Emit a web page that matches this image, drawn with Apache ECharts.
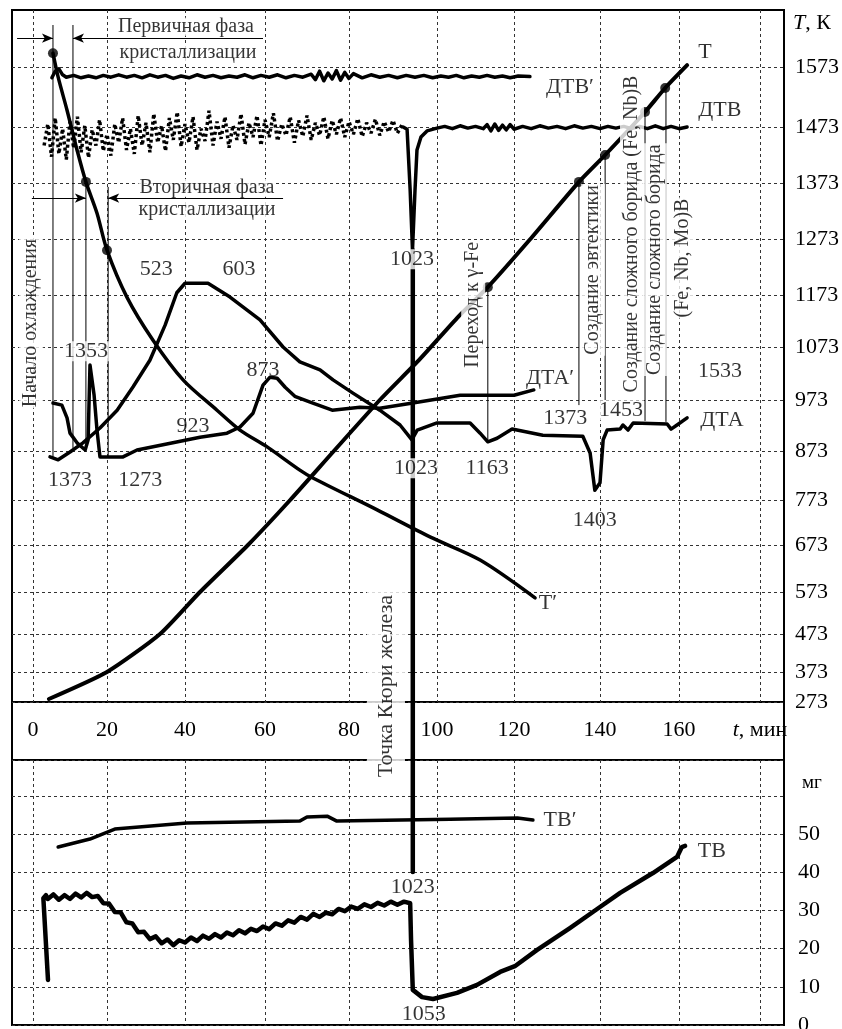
<!DOCTYPE html>
<html><head><meta charset="utf-8">
<script src="https://cdn.jsdelivr.net/npm/echarts@6/dist/echarts.min.js"></script>
<style>html,body{margin:0;padding:0;background:#fff}#c{width:842px;height:1029px}</style>
</head><body><div id="c"></div><script>
// ---------------- DATA ----------------
// time axis, minutes
const TIME_TICKS = [0,20,40,60,80,100,120,140,160,180];
const TIME_TICK_LABELS = ['0','20','40','60','80','100','120','140','160','{i|t}, мин'];
// temperature axis, K
const TEMP_TICKS = [273,373,473,573,673,773,873,973,1073,1173,1273,1373,1473,1573];
const TEMP_TICK_LABELS = TEMP_TICKS.map(String);
// mass axis, mg
const MASS_TICKS = [0,10,20,30,40,50,60];
const MASS_TICK_LABELS = ['0','10','20','30','40','50',''];

// curves in the upper panel: [t (min), K]
const T_CURVE = [[4.3,283],[20,373],[33.6,473],[43.75,573],[55.75,673],[66,773],[76.4,873],[87,973],[96.1,1050],[105.5,1131],[113.2,1187],[123.7,1272],[135.1,1375],[141.3,1423],[151.4,1498],[156.5,1538],[162,1576]];
const T_PRIME = [[5.4,1596],[6.8,1556],[9.2,1501],[11.9,1432],[14.3,1375],[17.3,1319],[20,1253],[25.1,1169],[31.8,1086],[39.5,1011],[48,953],[53.75,914],[60.5,881],[68.3,834],[71.4,818],[86.4,751],[98.4,691],[111.2,641],[124.9,559]];
const DTA = [[4.6,861],[6.8,855],[10,871],[13.5,889],[18.1,918],[22.6,953],[26.7,998],[31,1048],[34.9,1115],[37.9,1177],[40,1194],[45.75,1194],[51.25,1169],[58.75,1125],[64.3,1073],[68.3,1045],[73.1,1030],[76.2,1011],[80.9,986],[87,953],[91.6,924],[94.3,895],[95.5,914],[100,928],[108.6,928],[111.2,908],[113.2,891],[115.6,898],[119.5,916],[126.7,904],[136,902],[137.7,869],[138.8,793],[140,808],[140.8,895],[141.8,914],[145.1,916],[145.8,924],[147.1,914],[148.4,928],[157,926],[158,916],[159.5,924],[162,938]];
const DTA_PRIME = [[5.4,967],[7.8,963],[9.2,938],[10,908],[11.9,889],[14.1,875],[14.9,895],[15.4,1039],[16.5,983],[17.3,914],[18.1,861],[24.1,861],[27.7,875],[36.9,889],[43.75,900],[50.5,908],[53.75,920],[57,947],[59.5,1001],[61.2,1016],[62.9,1014],[64.8,997],[67.1,980],[71.4,967],[76,953],[82.5,959],[87,957],[94.5,967],[106,982],[120,982],[124.6,992]];
const DTV_PRIME = [[5.1,1555],[6,1566],[7,1570],[8,1560],[9,1556],[11,1559],[13,1555],[15,1558],[17,1555],[19,1559],[21,1556],[23,1560],[25,1556],[27,1559],[29,1555],[31,1560],[33,1556],[35,1559],[37,1554],[39,1558],[41,1555],[43,1560],[45,1556],[47,1559],[49,1555],[51,1558],[53,1556],[55,1560],[57,1555],[59,1559],[61,1556],[63,1560],[65,1555],[67,1559],[69,1556],[71,1561],[72,1552],[73,1566],[74,1550],[75,1563],[76,1553],[77,1567],[78,1551],[79,1564],[80,1554],[81,1562],[83,1555],[85,1560],[87,1556],[89,1559],[91,1555],[93,1559],[95,1556],[97,1559],[99,1555],[101,1558],[103,1556],[105,1559],[107,1555],[109,1558],[111,1556],[113,1559],[115,1556],[117,1558],[119,1555],[121,1558],[123.7,1557]];
const DTV_DOTS = [[3,1440],[4,1478],[5,1420],[6,1488],[7,1425],[8,1470],[9,1415],[10,1482],[11,1435],[12,1490],[13,1428],[14,1475],[15,1418],[16,1468],[17,1440],[18,1485],[19,1430],[20,1460],[21,1422],[22,1478],[23,1445],[24,1488],[25,1432],[26,1470],[27,1425],[28,1492],[29,1440],[30,1480],[31,1428],[32,1495],[33,1445],[34,1475],[35,1430],[36,1488],[37,1450],[38,1498],[39,1438],[40,1478],[41,1445],[42,1490],[43,1432],[44,1470],[45,1448],[46,1500],[47,1440],[48,1482],[49,1452],[50,1490],[51,1436],[52,1476],[53,1450],[54,1495],[55,1442],[56,1480],[57,1455],[58,1492],[59,1440],[60,1485],[61,1455],[62,1496],[63,1448],[64,1478],[65,1458],[66,1490],[67,1445],[68,1484],[69,1456],[70,1492],[71,1450],[72,1480],[73,1458],[74,1490],[75,1452],[76,1484],[77,1460],[78,1488],[79,1455],[80,1482],[81,1460],[82,1487],[83,1456],[84,1480],[85,1462],[86,1486],[87,1458],[88,1482],[89,1464],[90,1484],[91,1462],[92,1476]];
const DTV_SOLID = [[92.3,1473],[93.2,1469],[93.9,1360],[94.43,1253],[94.66,1253],[95.0,1360],[95.45,1432],[96.36,1455],[97.73,1466],[100,1471],[102,1474],[104,1470],[106,1475],[108,1471],[110,1474],[112,1470],[113,1477],[114,1466],[115,1478],[116,1467],[117,1476],[118,1468],[119,1477],[120,1469],[122,1474],[124,1470],[126,1475],[128,1471],[130,1474],[132,1470],[134,1475],[136,1471],[138,1474],[140,1470],[142,1474],[144,1471],[146,1474],[148,1470],[150,1474],[152,1470],[154,1475],[156,1470],[158,1474],[160,1470],[162,1473]];
const CURIE_TIME = 94.5;
const CURIE_TOP_K = [1253, 273];
const CURIE_BOTTOM_MG = 40.1;
// transition markers
const T_MARKERS = [[113.2,1187],[135.1,1375],[141.3,1423],[151.4,1498],[156.5,1538]];
const TP_MARKERS = [[5.4,1596],[14.3,1375],[20,1253]];
// thin vertical guide lines: [t, K from, K to]
const GUIDES = [[5.4,1643,861],[10.8,1643,879],[14.3,1375,875],[20.3,1366,861],[113.2,1187,891],[135.1,1375,963],[141.3,1423,973],[151.4,1498,932],[156.7,1538,930]];
// arrows: [t from, K, t to, K]
const ARROWS = [[-4.3,1621,5.4,1621],[59.5,1621,10.8,1621],[-0.3,1346,14.3,1346],[64.3,1346,20.3,1346]];

// lower panel: [t, mg]
const TB_PRIME = [[6.8,46.6],[15.4,48.7],[22,51.3],[40.5,52.9],[68.3,53.4],[70,54.5],[74.8,54.7],[77.1,53.4],[103.4,53.9],[120.8,54.2],[124.4,53.7]];
const TB = [[4.05,11.8],[2.8,33.2],[3.5,34.0],[4,33.0],[5.5,34.2],[7,32.8],[8.5,34.0],[10,33.0],[11.5,34.4],[13,33.4],[14.5,34.6],[16,33.5],[17.5,33.8],[19,31.9],[20.5,31.8],[22,29.6],[23.5,29.5],[25,26.9],[26.5,26.6],[28,24.3],[29.5,24.4],[31,22.5],[32.5,23.2],[34,21.4],[35.5,22.4],[37,20.9],[38.5,22.2],[40,21.6],[41.5,22.9],[43,22.0],[44.5,23.4],[46,22.6],[47.5,23.8],[49,22.9],[50.5,24.2],[52,23.5],[53.5,24.8],[55,24.0],[56.5,25.2],[58,24.6],[59.5,25.8],[61,25.1],[62.5,26.6],[64,26.0],[65.5,27.4],[67,26.8],[68.5,28.3],[70,27.6],[71.5,29.1],[73,28.3],[74.5,29.4],[76,29.0],[77.5,30.4],[79,29.8],[80.5,31.0],[82,30.4],[83.5,31.6],[85,30.9],[86.5,32.0],[88,31.3],[89.5,32.3],[91,31.5],[92.5,32.3],[93.9,31.9],[94.1,22.3],[94.5,9.2],[96.6,7.3],[99.1,6.8],[105.2,8.4],[110.4,10.5],[116.4,13.9],[120.2,15.4],[125.3,19.6],[133,25.4],[140,30.9],[145.1,34.6],[153.4,39.8],[159.5,44.0],[160.7,46.6],[161.5,46.9]];

// annotations: [t, value, text, kind]
const TOP_NOTES = [
  [40.25,1640,'Первичная фаза','word'],
  [40.75,1596,'кристаллизации','word'],
  [45.5,1364,'Вторичная фаза','word'],
  [45.5,1325,'кристаллизации','word'],
  [-0.5,1119,'Начало охлаждения','vword'],
  [14.3,1065,'1353','numbg'],
  [32.6,1219,'523','num'],
  [53.5,1219,'603','num'],
  [59.5,1030,'873','num'],
  [42,922,'923','num'],
  [10,814,'1373','num'],
  [28.5,814,'1273','num'],
  [94.3,1237,'1023','numbg'],
  [95.2,838,'1023','numbg'],
  [113,838,'1163','num'],
  [109.4,1154,'Переход к γ-Fe','vword'],
  [128.4,1015,'ДТА′','num'],
  [131.9,938,'1373','numbg'],
  [145.3,953,'1453','numbg'],
  [138.8,729,'1403','num'],
  [138.4,1218,'Создание эвтектики','vword'],
  [148.1,1282,'Создание сложного борида (Fe, Nb)B','vword'],
  [153.9,1236,'Создание сложного борида','vword'],
  [161,1239,'(Fe, Nb, Mo)B','vword'],
  [170.1,1028,'1533','num'],
  [166.4,1598,'T','num'],
  [133,1540,'ДТВ′','num'],
  [170.1,1501,'ДТВ','num'],
  [170.6,934,'ДТА','num'],
  [127.9,547,'T′','num'],
  [88.4,326,'Точка Кюри железа','vcurie']
];
const BOTTOM_NOTES = [
  [130.7,53.7,'ТВ′','num'],
  [168.1,45.5,'ТВ','num'],
  [94.5,36.1,'1023','numbg'],
  [97,2.9,'1053','num']
];

// ---------------- LAYOUT (hand-drawn, non-uniform scales) ----------------
const TIME_TICK_POS = [0,74,152,232,316,404,481,567,646,727];
const TIME_EXTENT = [-21, 751];
const TEMP_TICK_POS = [0,30,68,110,157,202,251,302,355,407,463,519,575,635];
const TEMP_EXTENT = [0, 692];
const MASS_MAX = 69.4;

const FONT = "'Liberation Serif','DejaVu Serif','Times New Roman',serif";
const GRID_LINE = {color:'#333', width:1, type:[3,3]};

function interp(v, xs, ys) {
  let i = 0;
  if (v >= xs[xs.length-1]) i = xs.length-2;
  else if (v > xs[0]) { while (v > xs[i+1]) i++; }
  return ys[i] + (v - xs[i]) * (ys[i+1] - ys[i]) / (xs[i+1] - xs[i]);
}
const tx = t => interp(t, TIME_TICKS, TIME_TICK_POS);
const ty = k => interp(k, TEMP_TICKS, TEMP_TICK_POS);
const nearest = (arr, v) => arr.reduce((b, a, i) => Math.abs(a - v) < Math.abs(arr[b] - v) ? i : b, 0);
const topPts = d => d.map(([t,k]) => [tx(t), ty(k)]);
const botPts = d => d.map(([t,m]) => [tx(t), m]);

const gridBase = {left:12, width:772, show:true, borderColor:'#000', borderWidth:2, backgroundColor:'transparent', outerBoundsMode:'none', containLabel:false};
function timeAxis(gridIndex, showLabel) {
  return {
    type:'value', gridIndex, min:TIME_EXTENT[0], max:TIME_EXTENT[1],
    axisLine:{show:false, onZero:false}, axisTick:{show:false, customValues:TIME_TICK_POS},
    axisLabel:{show:showLabel, customValues:TIME_TICK_POS, margin:17, color:'#000', fontFamily:FONT, fontSize:22,
      formatter: v => TIME_TICK_LABELS[nearest(TIME_TICK_POS, v)],
      rich:{i:{fontStyle:'italic', fontFamily:FONT, fontSize:22, color:'#000'}}},
    splitLine:{show:gridIndex !== 2, lineStyle:GRID_LINE}
  };
}

const NOTE_STYLE = {
  word:{fontSize:20, lineHeight:18, backgroundColor:'#fff', padding:[0,1]},
  num:{fontSize:22},
  numbg:{fontSize:22, lineHeight:20, backgroundColor:'#fff', padding:[0,1]},
  vword:{fontSize:20, lineHeight:20, rotate:90, backgroundColor:'#fff', padding:[2,1]},
  vcurie:{fontSize:22, lineHeight:22, rotate:90, backgroundColor:'#fff', padding:[8,4]}
};
function notesSeries(notes, ax, conv) {
  return {
    type:'scatter', xAxisIndex:ax, yAxisIndex:ax, z:20, silent:true, symbol:'circle', symbolSize:1,
    itemStyle:{color:'rgba(0,0,0,0)'},
    data: notes.map(([t,v,text,kind]) => ({
      value: conv(t, v),
      label: Object.assign({show:true, position:'inside', formatter:text, color:'#000', fontFamily:FONT}, NOTE_STYLE[kind])
    }))
  };
}
function line(name, data, ax, width, extra) {
  return Object.assign({type:'line', name, xAxisIndex:ax, yAxisIndex:ax, data, symbol:'none', silent:true,
    lineStyle:{color:'#000', width, join:'round', cap:'round'}, z:5}, extra || {});
}

const series = [
  line('T', topPts(T_CURVE), 0, 4, {smooth:0.2,
    markLine:{silent:true, animation:false, symbol:['none','arrow'], symbolSize:[7,11],
      lineStyle:{color:'#000', width:1, type:'solid'}, label:{show:false},
      data: ARROWS.map(([t1,k1,t2,k2]) => [{coord:[tx(t1), ty(k1)]}, {coord:[tx(t2), ty(k2)]}])}}),
  line('T′', topPts(T_PRIME), 0, 3.5, {smooth:0.3}),
  line('ДТА', topPts(DTA), 0, 3.5),
  line('ДТА′', topPts(DTA_PRIME), 0, 3.5),
  line('ДТВ′', topPts(DTV_PRIME), 0, 3.5),
  line('ДТВ dots', topPts(DTV_DOTS), 0, 3.5, {lineStyle:{color:'#000', width:3.5, type:[3,3], cap:'butt'}}),
  line('ДТВ', topPts(DTV_SOLID), 0, 3.5),
  line('Curie top', topPts(CURIE_TOP_K.map(k => [CURIE_TIME, k])), 0, 4.5),
  line('Curie strip', [[tx(CURIE_TIME),0],[tx(CURIE_TIME),1]], 2, 4.5),
  line('Curie bottom', [[tx(CURIE_TIME),MASS_MAX],[tx(CURIE_TIME),CURIE_BOTTOM_MG]], 1, 4.5),
  line('ТВ′', botPts(TB_PRIME), 1, 3.5),
  line('ТВ', botPts(TB), 1, 4.5),
  ...GUIDES.map(([t,k1,k2], i) => line('guide'+i, [[tx(t),ty(k1)],[tx(t),ty(k2)]], 0, 1, {lineStyle:{color:'#000', width:1}, z:3})),
  {type:'scatter', xAxisIndex:0, yAxisIndex:0, z:8, silent:true, symbol:'circle', symbolSize:10,
   itemStyle:{color:'#000'}, data: topPts(T_MARKERS.concat(TP_MARKERS))},
  notesSeries(TOP_NOTES, 0, (t,k) => [tx(t), ty(k)]),
  notesSeries(BOTTOM_NOTES, 1, (t,m) => [tx(t), m])
];

const chart = echarts.init(document.getElementById('c'), null, {renderer:'canvas'});
chart.setOption({
  animation:false,
  backgroundColor:'#fff',
  textStyle:{fontFamily:FONT},
  grid:[
    Object.assign({}, gridBase, {top:10, height:692}),
    Object.assign({}, gridBase, {top:760, height:265}),
    Object.assign({}, gridBase, {top:702, height:58})
  ],
  xAxis:[timeAxis(0, true), timeAxis(1, false), Object.assign(timeAxis(2, false), {show:false})],
  yAxis:[
    {type:'value', gridIndex:0, min:TEMP_EXTENT[0], max:TEMP_EXTENT[1], position:'right',
     axisLine:{show:false, onZero:false}, axisTick:{show:false, customValues:TEMP_TICK_POS},
     axisLabel:{customValues:TEMP_TICK_POS, margin:11, color:'#000', fontFamily:FONT, fontSize:22,
       formatter: v => TEMP_TICK_LABELS[nearest(TEMP_TICK_POS, v)]},
     splitLine:{show:true, lineStyle:GRID_LINE},
     name:'{i|T}, К', nameLocation:'end', nameGap:-2,
     nameTextStyle:{align:'left', verticalAlign:'top', padding:[0,0,0,9], color:'#000', fontFamily:FONT, fontSize:22,
       rich:{i:{fontStyle:'italic', fontFamily:FONT, fontSize:22, color:'#000'}}}},
    {type:'value', gridIndex:1, min:0, max:MASS_MAX, interval:10, position:'right',
     axisLine:{show:false, onZero:false}, axisTick:{show:false},
     axisLabel:{margin:14, color:'#000', fontFamily:FONT, fontSize:22,
       formatter: v => { const i = MASS_TICKS.indexOf(v); return i >= 0 ? MASS_TICK_LABELS[i] : ''; }},
     splitLine:{show:true, lineStyle:GRID_LINE},
     name:'мг', nameLocation:'end', nameGap:-14,
     nameTextStyle:{align:'left', verticalAlign:'top', padding:[0,0,0,18], color:'#000', fontFamily:FONT, fontSize:19}},
    {type:'value', gridIndex:2, min:0, max:1, show:false}
  ],
  series
});
</script></body></html>
